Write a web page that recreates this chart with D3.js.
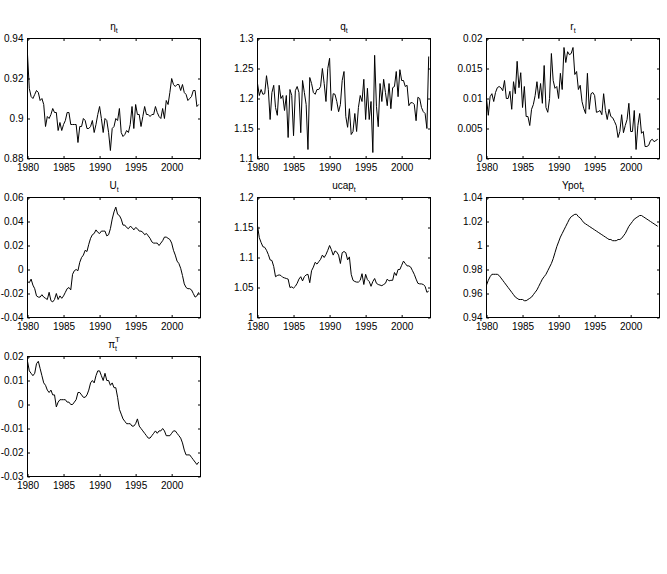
<!DOCTYPE html>
<html>
<head>
<meta charset="utf-8">
<script src="https://cdn.jsdelivr.net/npm/d3@7"></script>
<style>
  body { margin: 0; background: #fff; }
  svg { display: block; }
  text { font-family: "Liberation Sans", Arial, Helvetica, sans-serif; fill: #000; }
</style>
</head>
<body>
<div id="chart"></div>
<script>
// quarterly series, 1980Q1 .. 2003Q4
const startYear = 1980;
const xDomain = [1980, 2004];
const xTicks = [1980, 1985, 1990, 1995, 2000];

const etaValues = [
  0.932, 0.915, 0.911, 0.910, 0.912, 0.914, 0.913, 0.909,
  0.910, 0.907, 0.896, 0.901, 0.900, 0.902, 0.905, 0.903,
  0.903, 0.894, 0.898, 0.894, 0.897, 0.899, 0.903, 0.903,
  0.897, 0.897, 0.897, 0.897, 0.888, 0.896, 0.896, 0.900,
  0.899, 0.895, 0.895, 0.896, 0.899, 0.893, 0.897, 0.902,
  0.906, 0.900, 0.893, 0.900, 0.899, 0.893, 0.884, 0.895,
  0.896, 0.900, 0.899, 0.905, 0.893, 0.891, 0.892, 0.894,
  0.893, 0.897, 0.906, 0.895, 0.907, 0.902, 0.902, 0.896,
  0.901, 0.906, 0.902, 0.902, 0.901, 0.902, 0.902, 0.906,
  0.903, 0.901, 0.900, 0.905, 0.900, 0.909, 0.907, 0.913,
  0.920, 0.917, 0.916, 0.917, 0.917, 0.914, 0.917, 0.913,
  0.912, 0.909, 0.910, 0.911, 0.914, 0.914, 0.906, 0.907
];

const qValues = [
  1.225, 1.205, 1.215, 1.207, 1.208, 1.238, 1.215, 1.165,
  1.210, 1.222, 1.185, 1.172, 1.222, 1.200, 1.205, 1.180,
  1.205, 1.135, 1.215, 1.205, 1.138, 1.213, 1.220, 1.210,
  1.143, 1.230, 1.210, 1.190, 1.115, 1.235, 1.225, 1.210,
  1.207, 1.215, 1.215, 1.220, 1.250, 1.225, 1.195, 1.250,
  1.267, 1.180, 1.208, 1.207, 1.195, 1.178, 1.190, 1.230,
  1.245, 1.170, 1.152, 1.183, 1.140, 1.145, 1.175, 1.145,
  1.185, 1.205, 1.195, 1.232, 1.165, 1.217, 1.165, 1.195,
  1.110, 1.272, 1.187, 1.153, 1.225, 1.195, 1.232, 1.210,
  1.188, 1.225, 1.183, 1.218, 1.220, 1.245, 1.203, 1.248,
  1.230, 1.230, 1.220, 1.222, 1.188, 1.193, 1.193, 1.190,
  1.163, 1.202, 1.200, 1.185, 1.178, 1.175, 1.150, 1.270
];

const rValues = [
  0.0100, 0.0072, 0.0103, 0.0108, 0.0095, 0.0110, 0.0118, 0.0120,
  0.0118, 0.0113, 0.0130, 0.0100, 0.0100, 0.0112, 0.0082, 0.0128,
  0.0108, 0.0162, 0.0118, 0.0143, 0.0085, 0.0120, 0.0070, 0.0070,
  0.0055, 0.0082, 0.0090, 0.0105, 0.0128, 0.0100, 0.0125, 0.0092,
  0.0155, 0.0085, 0.0077, 0.0100, 0.0175, 0.0130, 0.0117, 0.0120,
  0.0100, 0.0142, 0.0115, 0.0185, 0.0160, 0.0178, 0.0173, 0.0175,
  0.0185, 0.0140, 0.0145, 0.0115, 0.0122, 0.0095, 0.0083, 0.0075,
  0.0142, 0.0082, 0.0108, 0.0110, 0.0105, 0.0077, 0.0078, 0.0080,
  0.0073, 0.0108, 0.0080, 0.0065, 0.0082, 0.0070, 0.0068, 0.0062,
  0.0055, 0.0035, 0.0045, 0.0073, 0.0043, 0.0055, 0.0065, 0.0092,
  0.0045, 0.0045, 0.0080, 0.0015, 0.0055, 0.0075, 0.0042, 0.0045,
  0.0020, 0.0020, 0.0022, 0.0030, 0.0032, 0.0028, 0.0030, 0.0032
];

const uValues = [
  -0.010, -0.011, -0.008, -0.013, -0.016, -0.022, -0.023, -0.023,
  -0.021, -0.023, -0.024, -0.025, -0.019, -0.026, -0.027, -0.025,
  -0.020, -0.025, -0.022, -0.024, -0.022, -0.019, -0.016, -0.015,
  -0.017, -0.004, -0.001, 0.000, -0.001, 0.006, 0.010, 0.012,
  0.016, 0.015, 0.021, 0.026, 0.029, 0.030, 0.033, 0.031,
  0.030, 0.032, 0.032, 0.032, 0.028, 0.029, 0.034, 0.042,
  0.048, 0.052, 0.046, 0.045, 0.042, 0.037, 0.037, 0.035,
  0.034, 0.036, 0.035, 0.033, 0.035, 0.034, 0.032, 0.032,
  0.031, 0.029, 0.030, 0.028, 0.026, 0.023, 0.022, 0.022,
  0.022, 0.020, 0.022, 0.024, 0.027, 0.027, 0.026, 0.025,
  0.022, 0.016, 0.012, 0.007, 0.005, 0.001, -0.005, -0.012,
  -0.015, -0.016, -0.016, -0.017, -0.020, -0.023, -0.022, -0.019
];

const ucapValues = [
  1.153, 1.133, 1.125, 1.118, 1.117, 1.112, 1.105, 1.096,
  1.095, 1.085, 1.068, 1.070, 1.071, 1.070, 1.067, 1.066,
  1.065, 1.064, 1.050, 1.051, 1.049, 1.052, 1.057, 1.064,
  1.068, 1.061, 1.068, 1.071, 1.072, 1.058, 1.078, 1.084,
  1.092, 1.089, 1.093, 1.097, 1.104, 1.100, 1.105, 1.112,
  1.120, 1.113, 1.104, 1.111, 1.109, 1.104, 1.090, 1.108,
  1.110, 1.108, 1.096, 1.101, 1.072, 1.062, 1.060, 1.059,
  1.059, 1.062, 1.073, 1.055, 1.072, 1.063, 1.060, 1.052,
  1.060, 1.065, 1.057, 1.055, 1.054, 1.053, 1.055, 1.057,
  1.064, 1.061, 1.062, 1.062, 1.075, 1.070, 1.080, 1.080,
  1.087, 1.094, 1.090, 1.086, 1.086, 1.084, 1.078, 1.072,
  1.064, 1.057, 1.056, 1.056, 1.055, 1.052, 1.042, 1.044
];

const ypotValues = [
  0.967, 0.971, 0.974, 0.976, 0.976, 0.976, 0.976, 0.975,
  0.973, 0.971, 0.969, 0.967, 0.965, 0.963, 0.961, 0.959,
  0.957, 0.956, 0.955, 0.955, 0.955, 0.954, 0.954, 0.955,
  0.956, 0.957, 0.959, 0.961, 0.963, 0.966, 0.969, 0.972,
  0.974, 0.976, 0.979, 0.982, 0.985, 0.989, 0.994, 0.999,
  1.003, 1.007, 1.010, 1.013, 1.016, 1.019, 1.022, 1.024,
  1.025, 1.026, 1.026, 1.024, 1.023, 1.021, 1.019, 1.018,
  1.017, 1.016, 1.015, 1.014, 1.013, 1.012, 1.011, 1.010,
  1.009, 1.008, 1.007, 1.006, 1.005, 1.005, 1.004, 1.004,
  1.004, 1.005, 1.005, 1.006, 1.008, 1.010, 1.013, 1.016,
  1.018, 1.020, 1.022, 1.023, 1.024, 1.025, 1.025, 1.024,
  1.023, 1.022, 1.021, 1.020, 1.019, 1.018, 1.017, 1.016
];

const piValues = [
  0.018, 0.014, 0.013, 0.012, 0.013, 0.017, 0.018, 0.015,
  0.012, 0.009, 0.008, 0.006, 0.005, 0.006, 0.004, 0.004,
  -0.001, 0.001, 0.002, 0.002, 0.002, 0.002, 0.001, 0.001,
  0.000, 0.000, 0.001, 0.002, 0.005, 0.005, 0.004, 0.003,
  0.003, 0.004, 0.006, 0.009, 0.010, 0.009, 0.012, 0.014,
  0.014, 0.012, 0.010, 0.013, 0.010, 0.010, 0.008, 0.009,
  0.007, 0.007, 0.003, -0.002, -0.004, -0.006, -0.007, -0.008,
  -0.008, -0.008, -0.009, -0.009, -0.008, -0.006, -0.009, -0.010,
  -0.011, -0.012, -0.013, -0.014, -0.014, -0.013, -0.012, -0.011,
  -0.012, -0.011, -0.011, -0.010, -0.011, -0.013, -0.013, -0.013,
  -0.012, -0.011, -0.011, -0.012, -0.013, -0.014, -0.016, -0.019,
  -0.021, -0.021, -0.021, -0.022, -0.023, -0.024, -0.025, -0.024
];

const etaTicks = [0.88, 0.9, 0.92, 0.94];
const qTicks = [1.1, 1.15, 1.2, 1.25, 1.3];
const rTicks = [0, 0.005, 0.01, 0.015, 0.02];
const uTicks = [-0.04, -0.02, 0, 0.02, 0.04, 0.06];
const ucapTicks = [1, 1.05, 1.1, 1.15, 1.2];
const ypotTicks = [0.94, 0.96, 0.98, 1, 1.02, 1.04];
const piTicks = [-0.03, -0.02, -0.01, 0, 0.01, 0.02];

const panels = [
  { base: "η", sub: "t", values: etaValues, ticks: etaTicks },
  { base: "q", sub: "t", values: qValues, ticks: qTicks },
  { base: "r", sub: "t", values: rValues, ticks: rTicks },
  { base: "U", sub: "t", values: uValues, ticks: uTicks },
  { base: "ucap", sub: "t", values: ucapValues, ticks: ucapTicks },
  { base: "Ypot", sub: "t", values: ypotValues, ticks: ypotTicks },
  { base: "π", sub: "t", sup: "T", values: piValues, ticks: piTicks }
];

const width = 667, height = 574;
const colX = [27, 257, 486];
const rowY = [38, 197, 356];
const w = 173, h = 120;
const tickLen = 2.5;
const fmt = d => String(+d.toFixed(4)).replace("-", "-");

const svg = d3.select("#chart").append("svg")
  .attr("width", width)
  .attr("height", height);

panels.forEach((p, i) => {
  const g = svg.append("g")
    .attr("transform", `translate(${colX[i % 3] + 0.5},${rowY[Math.floor(i / 3)] + 0.5})`);

  const x = d3.scaleLinear().domain(xDomain).range([0, w]);
  const y = d3.scaleLinear().domain(d3.extent(p.ticks)).range([h, 0]);

  // bottom + left with labels, ticks pointing inward
  g.append("g")
    .attr("transform", `translate(0,${h})`)
    .call(d3.axisBottom(x).tickValues(xTicks).tickSize(-tickLen).tickPadding(5).tickFormat(d3.format("d")));
  g.append("g")
    .call(d3.axisLeft(y).tickValues(p.ticks).tickSize(-tickLen).tickPadding(4).tickFormat(fmt));
  // mirrored ticks on top / right
  g.append("g")
    .call(d3.axisTop(x).tickValues(xTicks).tickSize(-tickLen).tickFormat(""));
  g.append("g")
    .attr("transform", `translate(${w},0)`)
    .call(d3.axisRight(y).tickValues(p.ticks).tickSize(-tickLen).tickFormat(""));

  g.selectAll(".domain").remove();
  g.selectAll(".tick line").attr("stroke", "#000");
  g.selectAll(".tick text").style("font-size", "10px").attr("fill", "#000");

  g.append("rect")
    .attr("width", w).attr("height", h)
    .attr("fill", "none").attr("stroke", "#000").attr("stroke-width", 1);

  const line = d3.line()
    .x((d, k) => x(startYear + k / 4))
    .y(d => y(d));

  g.append("path")
    .datum(p.values)
    .attr("fill", "none")
    .attr("stroke", "#000")
    .attr("stroke-width", 1)
    .attr("stroke-linejoin", "round")
    .attr("d", line);

  // title
  const t = g.append("text")
    .attr("x", w / 2)
    .attr("y", -9)
    .attr("text-anchor", "middle")
    .style("font-size", "10px");
  t.append("tspan").text(p.base);
  t.append("tspan").text(p.sub).attr("dy", 3).style("font-size", "7px");
  if (p.sup) {
    t.append("tspan").text(p.sup).attr("dx", -2).attr("dy", -9).style("font-size", "8px");
  }
});
</script>
</body>
</html>
